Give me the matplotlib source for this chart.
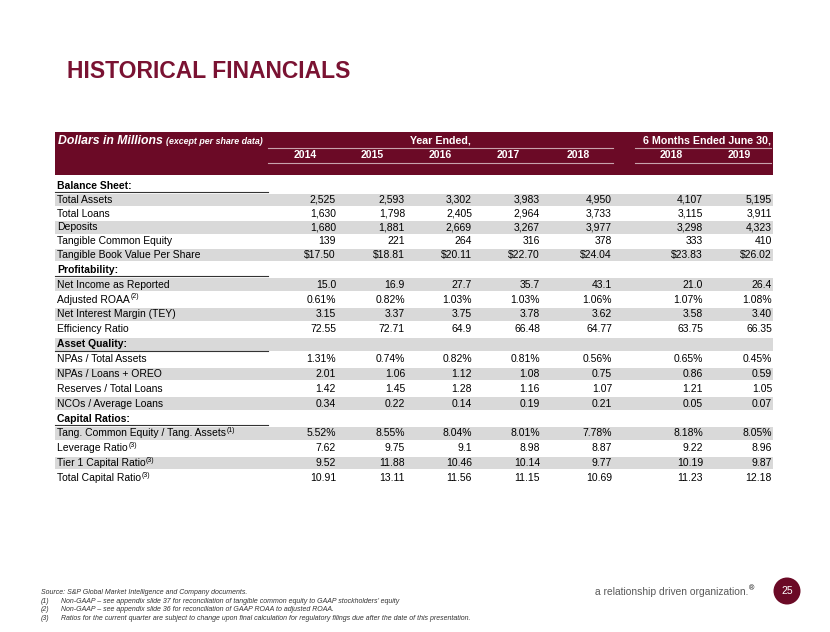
import matplotlib.pyplot as plt
from matplotlib.patches import Rectangle, Circle

plt.rcParams['font.family'] = ['Liberation Sans', 'DejaVu Sans']

MAROON = '#6b0a26'
TITLE_RED = '#7a1232'
STRIPE = '#d9d9d9'

title = "HISTORICAL FINANCIALS"
unit_note = "Dollars in Millions"
unit_note_small = "(except per share data)"
period_groups = ["Year Ended,", "6 Months Ended June 30,"]
years = ["2014", "2015", "2016", "2017", "2018", "2018", "2019"]

section_names = ["Balance Sheet:", "Profitability:", "Asset Quality:", "Capital Ratios:"]
section_rows = [
    ["Total Assets", "Total Loans", "Deposits", "Tangible Common Equity",
     "Tangible Book Value Per Share"],
    ["Net Income as Reported", "Adjusted ROAA", "Net Interest Margin (TEY)", "Efficiency Ratio"],
    ["NPAs / Total Assets", "NPAs / Loans + OREO", "Reserves / Total Loans", "NCOs / Average Loans"],
    ["Tang. Common Equity / Tang. Assets", "Leverage Ratio", "Tier 1 Capital Ratio",
     "Total Capital Ratio"],
]
label_notes = {
    "Adjusted ROAA": "(2)",
    "Tang. Common Equity / Tang. Assets": "(1)",
    "Leverage Ratio": "(3)",
    "Tier 1 Capital Ratio": "(3)",
    "Total Capital Ratio": "(3)",
}

fy2014 = ["2,525", "1,630", "1,680", "139", "$17.50", "15.0", "0.61%", "3.15", "72.55",
          "1.31%", "2.01", "1.42", "0.34", "5.52%", "7.62", "9.52", "10.91"]
fy2015 = ["2,593", "1,798", "1,881", "221", "$18.81", "16.9", "0.82%", "3.37", "72.71",
          "0.74%", "1.06", "1.45", "0.22", "8.55%", "9.75", "11.88", "13.11"]
fy2016 = ["3,302", "2,405", "2,669", "264", "$20.11", "27.7", "1.03%", "3.75", "64.9",
          "0.82%", "1.12", "1.28", "0.14", "8.04%", "9.1", "10.46", "11.56"]
fy2017 = ["3,983", "2,964", "3,267", "316", "$22.70", "35.7", "1.03%", "3.78", "66.48",
          "0.81%", "1.08", "1.16", "0.19", "8.01%", "8.98", "10.14", "11.15"]
fy2018 = ["4,950", "3,733", "3,977", "378", "$24.04", "43.1", "1.06%", "3.62", "64.77",
          "0.56%", "0.75", "1.07", "0.21", "7.78%", "8.87", "9.77", "10.69"]
h1_2018 = ["4,107", "3,115", "3,298", "333", "$23.83", "21.0", "1.07%", "3.58", "63.75",
           "0.65%", "0.86", "1.21", "0.05", "8.18%", "9.22", "10.19", "11.23"]
h1_2019 = ["5,195", "3,911", "4,323", "410", "$26.02", "26.4", "1.08%", "3.40", "66.35",
           "0.45%", "0.59", "1.05", "0.07", "8.05%", "8.96", "9.87", "12.18"]
columns = [fy2014, fy2015, fy2016, fy2017, fy2018, h1_2018, h1_2019]

footnotes = [
    ("", "Source: S&P Global Market Intelligence and Company documents."),
    ("(1)", "Non-GAAP \u2013 see appendix slide 37 for reconciliation of tangible common equity to GAAP stockholders\u2019 equity"),
    ("(2)", "Non-GAAP \u2013 see appendix slide 36 for reconciliation of GAAP ROAA to adjusted ROAA."),
    ("(3)", "Ratios for the current quarter are subject to change upon final calculation for regulatory filings due after the date of this presentation."),
]
tagline = "a relationship driven organization."
page_no = "25"

# layout (pixel coordinates, y down)
W, H = 830, 632
LEFT, RIGHT = 55, 773
LABEL_END = 268
col_right = [336, 405, 472, 540, 612, 703, 772]
year_center = [305, 372, 440, 508, 578, 671, 739]
group_span = [(268, 613), (635, 771)]
FS = 7.5

fig = plt.figure(figsize=(W / 100, H / 100), dpi=100)
ax = fig.add_axes([0, 0, 1, 1])
ax.set_xlim(0, W)
ax.set_ylim(H, 0)
ax.axis('off')
renderer = fig.canvas.get_renderer()


def sup_after(t, note, size=5.0):
    bb = t.get_window_extent(renderer).transformed(ax.transData.inverted())
    x1 = max(bb.x0, bb.x1)
    y = t.get_position()[1]
    ax.text(x1 + 0.5, y - 3, note, fontsize=size, va='center', ha='left', color='black')


# title
ax.text(67, 71, title, fontsize=16.5, fontweight='bold', color=TITLE_RED, va='center', ha='left')

# header band
ax.add_patch(Rectangle((LEFT, 132), RIGHT - LEFT, 43, color=MAROON, lw=0))
t = ax.text(58, 141, unit_note, fontsize=8.8, fontweight='bold', style='italic',
            color='white', va='center', ha='left')
bb = t.get_window_extent(renderer).transformed(ax.transData.inverted())
ax.text(bb.x1 + 3, 141.5, unit_note_small, fontsize=6.4, fontweight='bold', style='italic',
        color='white', va='center', ha='left')
for (x0, x1), g in zip(group_span, period_groups):
    ax.text((x0 + x1) / 2 if g.startswith("Year") else x1, 140.5, g, fontsize=7.7,
            fontweight='bold', color='white', va='center',
            ha='center' if g.startswith("Year") else 'right')
    ax.plot([x0, x1], [147.5, 147.5], color='#c8a3ad', lw=0.8)
    ax.plot([x0, x1], [162.5, 162.5], color='#c8a3ad', lw=0.8)
for xc, yr in zip(year_center, years):
    ax.text(xc, 155, yr, fontsize=7.6, fontweight='bold', color='white', va='center', ha='center')

# body rows
rows = []
k = 0
for name, labels in zip(section_names, section_rows):
    rows.append(('head', name, None))
    for lab in labels:
        rows.append(('data', lab, k))
        k += 1

for i, (kind, lab, idx) in enumerate(rows):
    y = 186 + 13.8 * i if i <= 5 else 255 + 14.87 * (i - 5)
    if i % 2 == 1:
        ax.add_patch(Rectangle((LEFT, y - 6.3), RIGHT - LEFT, 12.6, color=STRIPE, lw=0))
    if kind == 'head':
        ax.text(57, y, lab, fontsize=FS, fontweight='bold', va='center', ha='left')
        ax.plot([LEFT, LABEL_END], [y + 6.3, y + 6.3], color='#333333', lw=0.8)
    else:
        t = ax.text(57, y, lab, fontsize=FS, va='center', ha='left')
        if lab in label_notes:
            sup_after(t, label_notes[lab])
        for xr, col in zip(col_right, columns):
            ax.text(xr, y, col[idx], fontsize=FS, va='center', ha='right')

# footnotes
for j, (tag, txt) in enumerate(footnotes):
    y = 593 + 8.4 * j
    if tag:
        ax.text(41, y, tag, fontsize=5.0, style='italic', color='#333333', va='center', ha='left')
        ax.text(61, y, txt, fontsize=5.0, style='italic', color='#333333', va='center', ha='left')
    else:
        ax.text(41, y, txt, fontsize=5.0, style='italic', color='#333333', va='center', ha='left')

# tagline and page badge
t = ax.text(595, 592, tagline, fontsize=7.4, color='#595959', va='center', ha='left')
sup_after(t, "\u00ae", size=5.2)
ax.add_patch(Circle((787, 591), 13.5, color=MAROON, lw=0))
ax.text(787, 591, page_no, fontsize=7.5, color='white', va='center', ha='center')

fig.savefig('out.png', dpi=100)
